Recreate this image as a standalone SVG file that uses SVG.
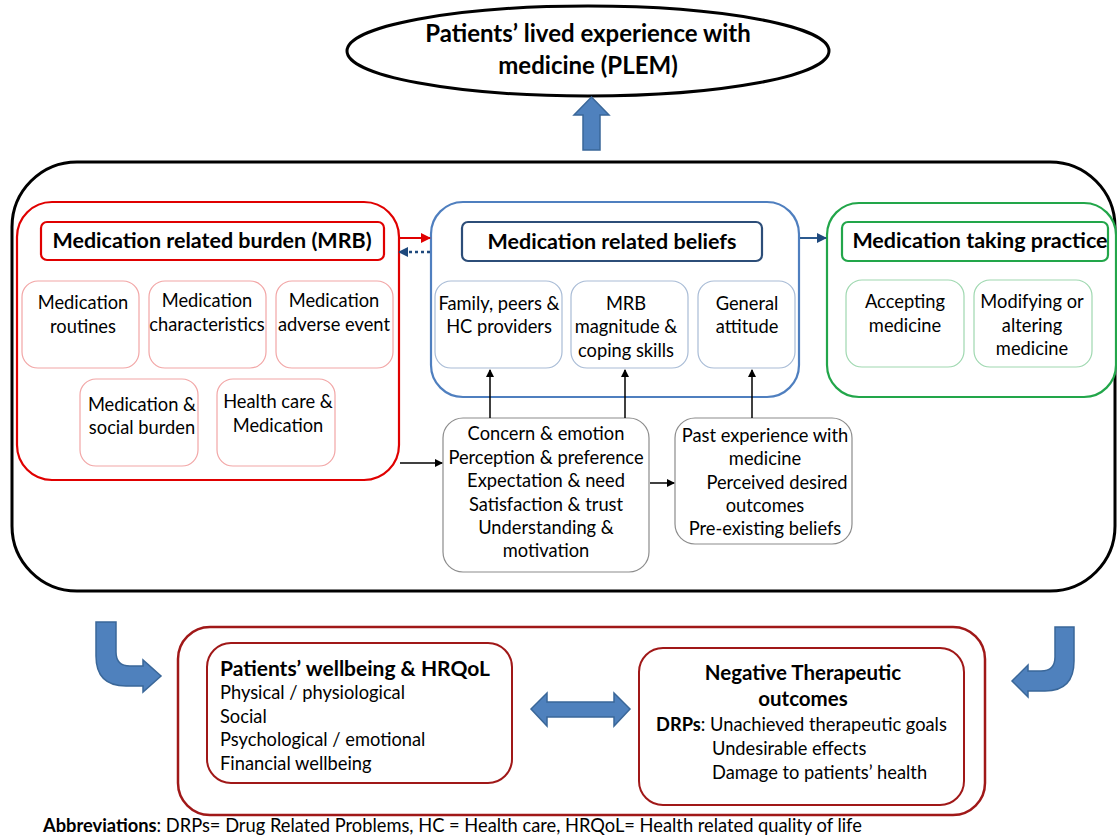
<svg xmlns="http://www.w3.org/2000/svg" width="1117" height="839" viewBox="0 0 1117 839">
<style>
text{font-family:Lato,"Liberation Sans",sans-serif;fill:#000;}
.t{font-size:18.3px;}
.c{text-anchor:middle;}
.h{font-size:21.5px;font-weight:bold;}
.sub-r{fill:#fff;stroke:#f2a6a6;stroke-width:1.2;}
.sub-b{fill:#fff;stroke:#a9bcd6;stroke-width:1.2;}
.sub-g{fill:#fff;stroke:#9fd8b0;stroke-width:1.2;}
.blk{fill:#4f81bd;stroke:#3a6799;stroke-width:1.5;}
.ln{stroke:#000;stroke-width:1.5;fill:none;}
</style>
<defs>
<marker id="ab" markerWidth="8" markerHeight="8" refX="7" refY="4" orient="auto" markerUnits="userSpaceOnUse"><path d="M0,0 L8,4 L0,8 Z" fill="#000"/></marker>
<marker id="ar" markerWidth="10" markerHeight="10" refX="9" refY="5" orient="auto" markerUnits="userSpaceOnUse"><path d="M0,0 L10,5 L0,10 Z" fill="#e00000"/></marker>
<marker id="adb" markerWidth="10" markerHeight="10" refX="9" refY="5" orient="auto" markerUnits="userSpaceOnUse"><path d="M0,0 L10,5 L0,10 Z" fill="#1f497d"/></marker>
</defs>
<rect width="1117" height="839" fill="#fff"/>

<g id="plem">
<ellipse cx="588" cy="51" rx="241" ry="45" fill="#fff" stroke="#000" stroke-width="3"/>
<text x="588" y="42" class="c" font-size="24" font-weight="bold">Patients’ lived experience with</text>
<text x="588" y="74" class="c" font-size="24" font-weight="bold">medicine (PLEM)</text>
</g>

<g id="outer">
<rect x="12" y="162" width="1103" height="429" rx="65" fill="none" stroke="#000" stroke-width="3"/>
</g>

<g id="mrb">
<rect x="17" y="202" width="382" height="278" rx="35" fill="#fff" stroke="#e00000" stroke-width="2.2"/>
<rect x="41" y="222" width="343" height="38" rx="6" fill="#fff" stroke="#e00000" stroke-width="2.2"/>
<text x="212" y="248" class="c h">Medication related burden (MRB)</text>
<rect class="sub-r" x="22" y="281" width="117" height="87" rx="16"/>
<text x="83" y="309" class="c t">Medication</text><text x="83" y="333" class="c t">routines</text>
<rect class="sub-r" x="149" y="281" width="117" height="87" rx="16"/>
<text x="207" y="307" class="c t">Medication</text><text x="207" y="331" class="c t">characteristics</text>
<rect class="sub-r" x="276" y="281" width="117" height="87" rx="16"/>
<text x="334" y="307" class="c t">Medication</text><text x="334" y="331" class="c t">adverse event</text>
<rect class="sub-r" x="80" y="379" width="118" height="87" rx="16"/>
<text x="142" y="411" class="c t">Medication &amp;</text><text x="142" y="434" class="c t">social burden</text>
<rect class="sub-r" x="217" y="379" width="118" height="87" rx="16"/>
<text x="278" y="408" class="c t">Health care &amp;</text><text x="278" y="432" class="c t">Medication</text>
</g>

<g id="beliefs">
<rect x="431" y="202" width="368" height="195" rx="32" fill="#fff" stroke="#4f7fbf" stroke-width="2.2"/>
<rect x="462" y="222" width="300" height="39" rx="6" fill="#fff" stroke="#2c4d78" stroke-width="2.2"/>
<text x="612" y="249" class="c h">Medication related beliefs</text>
<rect class="sub-b" x="435" y="281" width="127" height="87" rx="16"/>
<text x="499" y="310" class="c t">Family, peers &amp;</text><text x="499" y="333" class="c t">HC providers</text>
<rect class="sub-b" x="571" y="281" width="117" height="87" rx="16"/>
<text x="626" y="310" class="c t">MRB</text><text x="626" y="333" class="c t">magnitude &amp;</text><text x="626" y="357" class="c t">coping skills</text>
<rect class="sub-b" x="698" y="281" width="97" height="87" rx="16"/>
<text x="747" y="310" class="c t">General</text><text x="747" y="333" class="c t">attitude</text>
</g>

<g id="practice">
<rect x="827" y="203" width="289" height="194" rx="32" fill="#fff" stroke="#22a64a" stroke-width="2.2"/>
<rect x="842" y="222" width="266" height="39" rx="6" fill="#fff" stroke="#22a64a" stroke-width="2.2"/>
<text x="980" y="248" class="c h">Medication taking practice</text>
<rect class="sub-g" x="846" y="280" width="118" height="87" rx="16"/>
<text x="905" y="308" class="c t">Accepting</text><text x="905" y="332" class="c t">medicine</text>
<rect class="sub-g" x="974" y="280" width="118" height="87" rx="16"/>
<text x="1032" y="308" class="c t">Modifying or</text><text x="1032" y="332" class="c t">altering</text><text x="1032" y="355" class="c t">medicine</text>
</g>

<g id="concern">
<rect x="443" y="418" width="206" height="154" rx="20" fill="#fff" stroke="#8c8c8c" stroke-width="1.2"/>
<text x="546" y="440" class="c t">Concern &amp; emotion</text>
<text x="546" y="464" class="c t">Perception &amp; preference</text>
<text x="546" y="487" class="c t">Expectation &amp; need</text>
<text x="546" y="511" class="c t">Satisfaction &amp; trust</text>
<text x="546" y="534" class="c t">Understanding &amp;</text>
<text x="546" y="557" class="c t">motivation</text>
</g>

<g id="past">
<rect x="675" y="418" width="177" height="126" rx="20" fill="#fff" stroke="#8c8c8c" stroke-width="1.2"/>
<text x="765" y="442" class="c t">Past experience with</text>
<text x="765" y="465" class="c t">medicine</text>
<text x="777" y="489" class="c t">Perceived desired</text>
<text x="765" y="512" class="c t">outcomes</text>
<text x="765" y="535" class="c t">Pre-existing beliefs</text>
</g>

<g id="outcomes">
<rect x="178" y="627" width="807" height="188" rx="32" fill="#fff" stroke="#a01818" stroke-width="2.5"/>
<g id="wellbeing">
<rect x="207" y="643" width="305" height="140" rx="24" fill="#fff" stroke="#a01818" stroke-width="2"/>
<text x="220" y="676" font-size="21" font-weight="bold">Patients’ wellbeing &amp; HRQoL</text>
<text x="220" y="699" class="t">Physical / physiological</text>
<text x="220" y="723" class="t">Social</text>
<text x="220" y="746" class="t">Psychological / emotional</text>
<text x="220" y="770" class="t">Financial wellbeing</text>
</g>
<g id="negative">
<rect x="639" y="648" width="325" height="157" rx="24" fill="#fff" stroke="#a01818" stroke-width="2"/>
<text x="803" y="680" class="c" font-size="20.5" font-weight="bold">Negative Therapeutic</text>
<text x="803" y="706" class="c" font-size="20.5" font-weight="bold">outcomes</text>
<text x="656" y="731" class="t"><tspan font-weight="bold">DRPs</tspan>: Unachieved therapeutic goals</text>
<text x="712" y="755" class="t">Undesirable effects</text>
<text x="712" y="779" class="t">Damage to patients’ health</text>
</g>
</g>

<g id="connectors">
<line x1="399" y1="238" x2="430" y2="238" stroke="#e00000" stroke-width="2" marker-end="url(#ar)"/>
<line x1="430" y1="252" x2="399" y2="252" stroke="#1f497d" stroke-width="2.5" stroke-dasharray="3,3" marker-end="url(#adb)"/>
<line x1="800" y1="238" x2="826" y2="238" stroke="#2c5a8f" stroke-width="2" marker-end="url(#adb)"/>
<line class="ln" x1="490" y1="418" x2="490" y2="370" marker-end="url(#ab)"/>
<line class="ln" x1="625" y1="418" x2="625" y2="370" marker-end="url(#ab)"/>
<line class="ln" x1="752" y1="418" x2="752" y2="370" marker-end="url(#ab)"/>
<line class="ln" x1="400" y1="463" x2="442" y2="463" marker-end="url(#ab)"/>
<line class="ln" x1="650" y1="483" x2="674" y2="483" marker-end="url(#ab)"/>
<path class="blk" d="M583,150 L583,115 L574,115 L591.5,97 L609,115 L600,115 L600,150 Z"/>
<path class="blk" d="M116,622 L116,652 Q116,666 130,666 L143,666 L143,660 L161,676 L143,692 L143,686 L126,686 Q96,686 96,656 L96,622 Z"/>
<path class="blk" d="M1055,627 L1055,657 Q1055,671 1041,671 L1028,671 L1028,665 L1012,681 L1028,697 L1028,691 L1045,691 Q1074,691 1074,661 L1074,627 Z"/>
<path class="blk" d="M531,709 L547,693 L547,702 L614,702 L614,693 L630,709 L614,726 L614,717 L547,717 L547,726 Z"/>
</g>

<text x="43" y="832" font-size="18.3"><tspan font-weight="bold">Abbreviations</tspan>: DRPs= Drug Related Problems, HC = Health care, HRQoL= Health related quality of life</text>
</svg>
